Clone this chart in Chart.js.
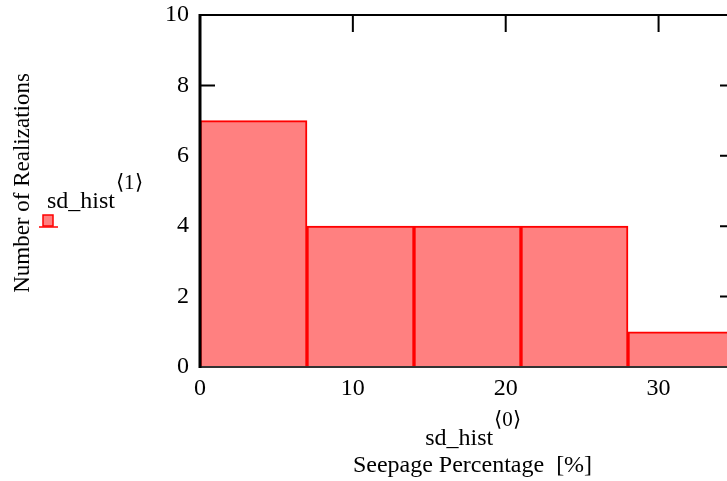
<!DOCTYPE html>
<html>
<head>
<meta charset="utf-8">
<script src="https://cdn.jsdelivr.net/npm/chart.js@4/dist/chart.umd.min.js"></script>
<style>
    html, body { margin: 0; padding: 0; overflow: hidden; background: #fff; }
    canvas { display: block; }
</style>
</head>
<body>
<canvas id="hist" width="740" height="481"></canvas>
<script>
// histogram bins (Seepage Percentage) and counts
var binStarts = [0, 7, 14, 21, 28];
var binWidth = 7;
var counts = [7, 4, 4, 4, 1];
var xTicks = [0, 10, 20, 30];
var yTicks = [0, 2, 4, 6, 8, 10];

var serif = "'Liberation Serif', 'Times New Roman', serif";

var points = [];
for (var i = 0; i < binStarts.length; i++) {
    points.push({ x: binStarts[i] + binWidth / 2, y: counts[i] });
}

// tick marks pointing into the plot, drawn before the bars so bars cover the bottom ones
var innerTicks = {
    id: 'innerTicks',
    beforeDatasetsDraw: function (chart) {
        var ctx = chart.ctx, a = chart.chartArea;
        var xs = chart.scales.x, ys = chart.scales.y;
        ctx.save();
        ctx.strokeStyle = '#000';
        ctx.lineWidth = 2;
        ctx.beginPath();
        xTicks.forEach(function (v) {
            var px = xs.getPixelForValue(v);
            ctx.moveTo(px, a.top); ctx.lineTo(px, a.top + 17);
            ctx.moveTo(px, a.bottom); ctx.lineTo(px, a.bottom - 15);
        });
        yTicks.forEach(function (v) {
            var py = ys.getPixelForValue(v);
            ctx.moveTo(a.left, py); ctx.lineTo(a.left + 15, py);
            ctx.moveTo(a.right, py); ctx.lineTo(a.right - 15, py);
        });
        ctx.stroke();
        ctx.restore();
    },
    afterDatasetsDraw: function (chart) {
        var ctx = chart.ctx, a = chart.chartArea;
        ctx.save();
        ctx.strokeStyle = '#000';
        ctx.lineWidth = 2;
        ctx.beginPath();
        ctx.moveTo(a.left, a.top); ctx.lineTo(a.right, a.top);
        ctx.moveTo(a.right, a.top); ctx.lineTo(a.right, a.bottom);
        ctx.stroke();
        ctx.strokeStyle = '#333';
        ctx.beginPath();
        ctx.moveTo(a.left, a.bottom); ctx.lineTo(a.right, a.bottom);
        ctx.stroke();
        ctx.strokeStyle = '#000';
        ctx.lineWidth = 3;
        ctx.beginPath();
        ctx.moveTo(a.left, a.top - 1); ctx.lineTo(a.left, a.bottom + 1);
        ctx.stroke();
        ctx.restore();
    }
};

// text with a superscript like  sd_hist<0>
function drawSup(ctx, main, sup, x, y) {
    ctx.font = '24px ' + serif;
    ctx.textBaseline = 'middle';
    ctx.textAlign = 'left';
    var w = ctx.measureText(main).width;
    ctx.fillText(main, x, y);
    ctx.font = '21px ' + serif;
    ctx.fillText(sup, x + w + 1, y - 19);
    return w;
}

var labels = {
    id: 'labels',
    afterDraw: function (chart) {
        var ctx = chart.ctx, a = chart.chartArea;
        ctx.save();
        ctx.fillStyle = '#000';

        // y axis title
        ctx.save();
        ctx.translate(23, 183);
        ctx.rotate(-Math.PI / 2);
        ctx.font = '23px ' + serif;
        ctx.textAlign = 'center';
        ctx.textBaseline = 'middle';
        ctx.fillText('Number of Realizations', 0, 0);
        ctx.restore();

        // x axis title, two lines
        ctx.font = '24px ' + serif;
        var wMain = ctx.measureText('sd_hist').width;
        ctx.font = '21px ' + serif;
        var wSup = ctx.measureText('\u27E80\u27E9').width;
        var cx = (a.left + a.right) / 2 + 5;
        drawSup(ctx, 'sd_hist', '\u27E80\u27E9', cx - (wMain + wSup) / 2, 439);
        ctx.font = '24px ' + serif;
        ctx.textAlign = 'center';
        ctx.fillText('Seepage Percentage  [%]', cx, 466);

        // legend entry
        drawSup(ctx, 'sd_hist', '\u27E81\u27E9', 47, 202);
        ctx.fillStyle = '#ff8080';
        ctx.fillRect(43, 215, 10, 11);
        ctx.strokeStyle = '#ff0000';
        ctx.lineWidth = 1.5;
        ctx.strokeRect(43, 215, 10, 11);
        ctx.beginPath();
        ctx.moveTo(39, 227); ctx.lineTo(58, 227);
        ctx.stroke();
        ctx.restore();
    }
};

new Chart(document.getElementById('hist'), {
    type: 'bar',
    data: {
        datasets: [{
            data: points,
            backgroundColor: '#ff8080',
            borderColor: '#ff0000',
            borderWidth: 2,
            barPercentage: 1,
            categoryPercentage: 1
        }]
    },
    options: {
        responsive: false,
        animation: false,
        layout: { padding: { top: 15, right: 5, left: 0, bottom: 0 } },
        plugins: {
            legend: { display: false },
            tooltip: { enabled: false }
        },
        scales: {
            x: {
                type: 'linear',
                offset: false,
                min: 0,
                max: 35,
                afterBuildTicks: function (scale) {
                    scale.ticks = xTicks.map(function (v) { return { value: v }; });
                },
                afterFit: function (scale) {
                    scale.height = 114;
                    scale.paddingLeft = 0;
                    scale.paddingRight = 0;
                },
                grid: { display: false, drawTicks: false },
                border: { display: false },
                ticks: {
                    color: '#000',
                    padding: 7,
                    maxRotation: 0,
                    font: { family: serif, size: 24 }
                }
            },
            y: {
                min: 0,
                max: 10,
                afterBuildTicks: function (scale) {
                    scale.ticks = yTicks.map(function (v) { return { value: v }; });
                },
                afterFit: function (scale) {
                    scale.width = 200;
                    scale.paddingTop = 0;
                    scale.paddingBottom = 0;
                },
                grid: { display: false, drawTicks: false },
                border: { display: false },
                ticks: {
                    color: '#000',
                    padding: 11,
                    font: { family: serif, size: 24 }
                }
            }
        }
    },
    plugins: [innerTicks, labels]
});
</script>
</body>
</html>
